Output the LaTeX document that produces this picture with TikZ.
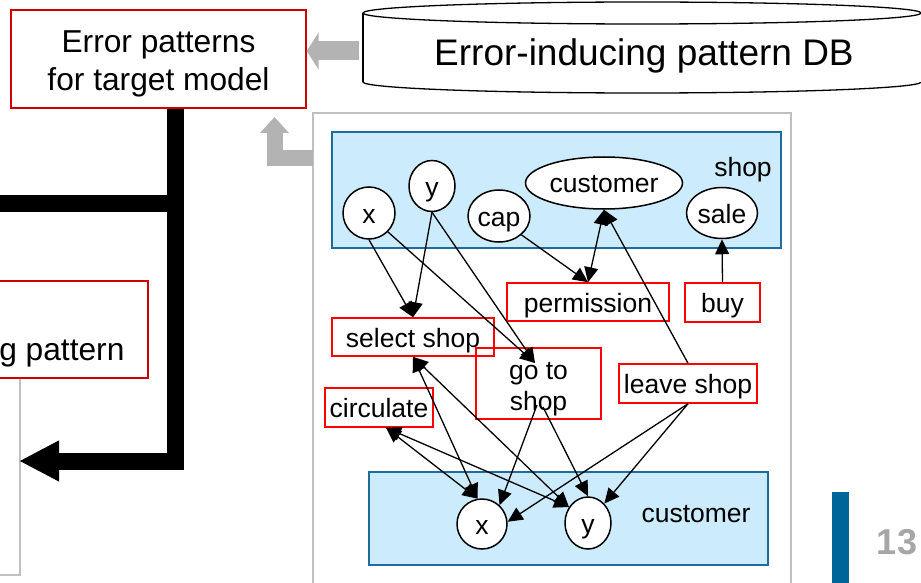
\documentclass[tikz,border=0pt]{standalone}
\usepackage{fontspec}
\setmainfont{Liberation Sans}
\usetikzlibrary{arrows.meta,shapes.geometric,calc}
\definecolor{boxred}{HTML}{D00000}
\definecolor{nodered}{HTML}{FF0000}
\definecolor{skyfill}{HTML}{CCEBFD}
\definecolor{skyline}{HTML}{1F6B9B}
\definecolor{flowgray}{HTML}{B3B3B3}
\definecolor{framegray}{HTML}{BFBFBF}
\definecolor{pagebar}{HTML}{00669A}
\definecolor{pagenum}{HTML}{A6A6A6}

\begin{document}
\begin{tikzpicture}[x=1pt,y=-1pt,
  bigtext/.style={font=\fontsize{31.7}{38}\selectfont},
  hugetext/.style={font=\fontsize{37}{44}\selectfont},
  smalltext/.style={font=\fontsize{26.5}{31}\selectfont},
  oneline/.style={text height=20pt, text depth=0pt},
  var/.style={ellipse, draw, fill=white, line width=1.5pt, inner sep=0pt, smalltext, oneline},
  act/.style={rectangle, draw=nodered, line width=1.5pt, inner sep=0pt, smalltext, align=center},
  mainbox/.style={rectangle, draw=boxred, fill=white, line width=1.4pt, inner sep=0pt},
  group/.style={draw=skyline, fill=skyfill, line width=1.3pt},
  panel/.style={draw=framegray, line width=2pt},
  tip/.style={Triangle[length=15pt,width=14pt]},
  link/.style={line width=1.3pt, -{Triangle[length=15pt,width=14pt]}},
  bilink/.style={line width=1.3pt, {Triangle[length=15pt,width=14pt]}-{Triangle[length=15pt,width=14pt]}},
  flow/.style={draw=black, line width=17pt, line join=miter},
  feed/.style={draw=flowgray, line join=miter},
]
\useasboundingbox (0,0) rectangle (921,583);
\clip (0,0) rectangle (921,583);

% panel frames
\draw[panel] (20,378) -- (20,575) -- (-5,575);
\draw[panel] (313,600) -- (313,113) -- (791,113) -- (791,600);

% pattern database (cylinder)
\draw[line width=1.3pt, fill=white] (642,82) ellipse (279 and 11);
\fill[white] (363,13) rectangle (921,82);
\draw[line width=1.3pt] (363,13) -- (363,82);
\draw[line width=1.3pt, fill=white] (642,13) ellipse (279 and 11);
\node[hugetext] (db) at (644,56) {Error-inducing pattern DB};

% left-hand boxes
\node[mainbox, minimum width=295pt, minimum height=98pt, bigtext, align=center]
  (target) at (158.5,59) {\rule{0pt}{31pt}Error patterns\\for target model};
\node[mainbox, minimum width=196pt, minimum height=97pt] (leftbox) at (50,329.5) {};
\node[bigtext, anchor=base east] (leftlabel) at (128,360) {g pattern};

% thick black flow
\coordinate (trunk) at (175,461);
\coordinate (branch) at (0,203);
\coordinate (entry) at (19,461);
\draw[flow, -{Triangle[length=40pt,width=38pt]}] (target.south -| trunk) -- (trunk) -- (entry);
\draw[flow] (branch) -- (branch -| trunk);

% gray feed arrows
\coordinate (dbout) at (359,51);
\coordinate (panelout) at (313,158.5);
\coordinate (bend) at (274.5,158.5);
\draw[feed, line width=19pt, -{Triangle[length=12pt,width=37pt]}] (dbout) -- (dbout -| target.east);
\draw[feed, line width=16pt, -{Triangle[length=16pt,width=28pt]}] (panelout) -- (bend) -- (bend |- 117,117);

% group regions
\draw[group] (332,132) rectangle (781,248);
\draw[group] (369,472) rectangle (768,565);
\node[smalltext] (shoplabel) at (743,170) {shop};
\node[smalltext] (custlabel) at (696,514) {customer};

% shop variables
\node[var, minimum width=52pt, minimum height=52pt] (x1) at (369,213) {x};
\node[var, minimum width=46pt, minimum height=51pt] (y1) at (432,186) {y};
\node[var, minimum width=62pt, minimum height=52pt] (cap) at (499,216) {cap};
\node[var, minimum width=157pt, minimum height=52pt] (cust) at (604,183) {customer};
\node[var, minimum width=71pt, minimum height=51pt] (sale) at (722,213) {sale};

% customer variables
\node[var, minimum width=50pt, minimum height=50pt] (x2) at (482,524) {x};
\node[var, minimum width=46pt, minimum height=52pt] (y2) at (588,523) {y};

% actions
\node[act, oneline, minimum width=162pt, minimum height=38pt] (perm) at (588,302) {permission};
\node[act, oneline, minimum width=75pt, minimum height=39pt] (buy) at (722.5,302.5) {buy};
\node[act, oneline, minimum width=162pt, minimum height=38pt] (sel) at (413,337) {select shop};
\node[act, minimum width=125pt, minimum height=71pt] (goto) at (538.5,383.5) {\rule{0pt}{28pt}go to\\shop};
\node[act, oneline, minimum width=138pt, minimum height=39pt] (leave) at (688,383.5) {leave shop};
\node[act, oneline, minimum width=108pt, minimum height=39pt] (circ) at (379,407.5) {circulate};

\coordinate (gotoin) at (535,363);
\coordinate (gotoA) at (537,405);
\coordinate (gotoB) at (543,407);

% upper links
\draw[link] (x1.south) -- (sel.north);
\draw[link] (y1.south) -- (sel.north);
\draw[link] (x1.-45) -- (gotoin);
\draw[link] (y1.south) -- (gotoin);
\draw[link] (cap.-40) -- (perm.north);
\draw[bilink] (cust.south) -- (perm.north);
\draw[link] (leave.north) -- (cust.south);
\draw[link] (buy.north) -- (sale.south);

% lower links
\draw[bilink] (sel.south) -- (x2.100);
\draw[bilink] (sel.south) -- (y2.140);
\draw[bilink] ([xshift=7pt]circ.south) -- (x2.100);
\draw[bilink] ([xshift=7pt]circ.south) -- (y2.140);
\draw[link] (gotoA) -- (x2.47);
\draw[link] (gotoB) -- (y2.north);
\draw[link] (leave.south) -- (x2.5);
\draw[link] (leave.south) -- (y2.50);

% page marker
\fill[pagebar] (832,492) rectangle (849,590);
\node[font=\fontsize{36}{40}\selectfont\bfseries, text=pagenum] (page) at (897,542) {13};
\end{tikzpicture}
\end{document}
